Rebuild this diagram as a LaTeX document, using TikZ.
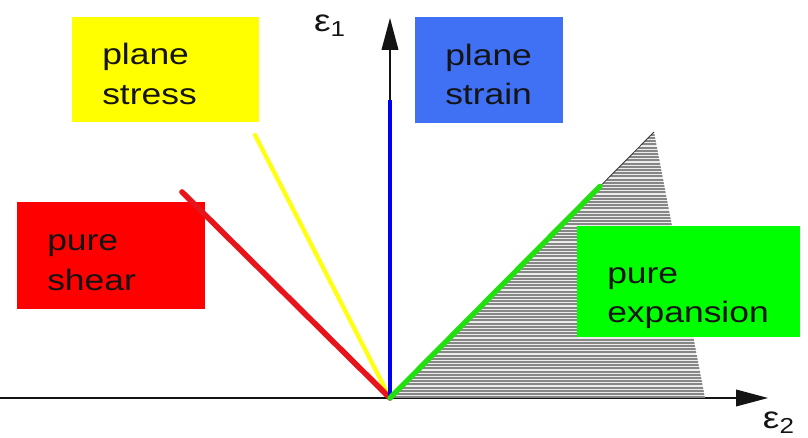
\documentclass[tikz,border=0pt]{standalone}
\usepackage{fontspec}
\setmainfont{Liberation Sans}[FakeStretch=1.2]
\usetikzlibrary{arrows.meta}
\definecolor{ink}{HTML}{141414}
\definecolor{stressbox}{HTML}{FFFF00}
\definecolor{strainbox}{HTML}{4070F4}
\definecolor{shearbox}{HTML}{FF0000}
\definecolor{expbox}{HTML}{00FF00}
\definecolor{stressline}{HTML}{FFFF10}
\definecolor{strainline}{HTML}{0000F0}
\definecolor{shearline}{HTML}{E8141C}
\definecolor{expline}{HTML}{22E010}

\begin{document}
\begin{tikzpicture}[
  font=\fontsize{21}{28}\selectfont,
  >={Triangle[length=0.8cm,width=0.42cm]},
  zone/.style={rectangle,anchor=north west,inner xsep=0.75cm,inner ysep=0pt,
    align=left,text=ink},
  axislabel/.style={font=\fontsize{22}{26}\selectfont,text=ink},
  mode/.style={line cap=round,line width=3.2pt},
  hatch/.style={draw=gray!95,line width=0.05cm}
]
  \useasboundingbox (-9.75,-1.0) rectangle (10.45,9.95);

  \coordinate (O) at (0,0);
  \coordinate (xstart) at (-9.75,0);
  \coordinate (xtip) at (9.45,0);
  \coordinate (ytip) at (0,9.5);
  \coordinate (apex) at (6.6,6.65);
  \coordinate (foot) at (7.875,0);

  % axes
  \draw[->,ink,line width=0.8pt] (xstart) -- (xtip);
  \draw[->,ink,line width=0.8pt] (O) -- (ytip);
  \node[axislabel] (e1) at (-1.5,9.3) {ε\textsubscript{1}};
  \node[axislabel] (e2) at (9.72,-0.62) {ε\textsubscript{2}};

  % hatched region
  \begin{scope}
    \clip (O) -- (apex) -- (foot) -- cycle;
    \fill[gray!15] (O) -- (apex) -- (foot) -- cycle;
    \foreach \h in {0.02,0.1,...,6.7}
      \draw[hatch] (0,\h) -- (8,\h);
  \end{scope}
  \draw[ink!85,line width=0.6pt] (O) -- (apex);

  % boxes
  \node[zone,fill=stressbox,minimum height=2.625cm,text width=3.175cm]
    (stress) at (-7.95,9.525) {\rule{0pt}{0.75cm}plane\\stress};
  \node[zone,fill=strainbox,minimum height=2.65cm,text width=2.2cm]
    (strain) at (0.625,9.525) {\rule{0pt}{0.75cm}plane\\strain};
  \node[zone,fill=shearbox,minimum height=2.675cm,text width=3.2cm]
    (shear) at (-9.325,4.9) {\rule{0pt}{0.75cm}pure\\shear};
  \node[zone,fill=expbox,minimum height=2.775cm,text width=4.075cm]
    (expansion) at (4.675,4.3) {\rule{0pt}{1.2cm}pure\\expansion};

  % strain paths
  \coordinate (stressend) at (-3.375,6.575);
  \coordinate (shearend) at (-5.2,5.15);
  \coordinate (strainend) at (0,7.45);
  \coordinate (expend) at (5.25,5.29);
  \draw[mode,stressline,line width=3pt] (O) -- (stressend);
  \draw[mode,shearline,line width=4pt] (O) -- (shearend);
  \draw[mode,strainline,line cap=butt] (O) -- (strainend);
  \draw[mode,expline,line width=3.8pt] (O) -- (expend);
\end{tikzpicture}
\end{document}
